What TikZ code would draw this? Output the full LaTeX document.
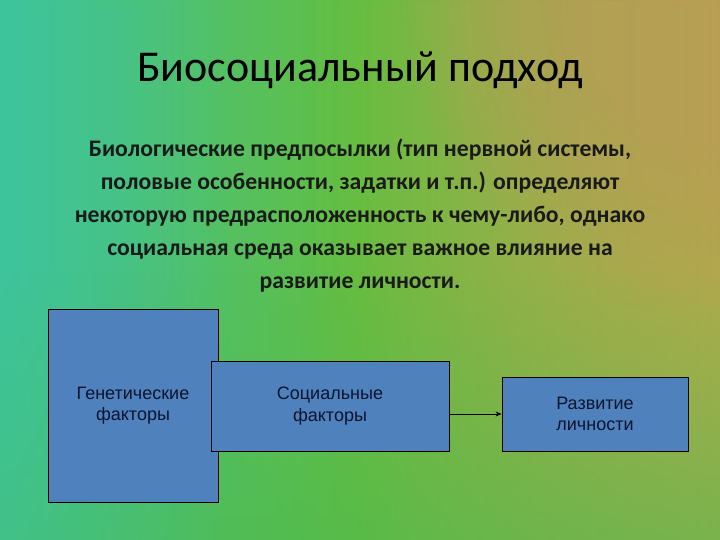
\documentclass[tikz,border=0pt]{standalone}
\usepackage{fontspec}
\setmainfont{Carlito}
\newfontfamily\boxfont{Liberation Sans}
\usetikzlibrary{arrows.meta,fadings}
\definecolor{bgteal}{HTML}{3EC49C}
\definecolor{bggreen}{HTML}{62BE40}
\definecolor{bgyellow}{HTML}{A7B844}
\definecolor{bgbrown}{HTML}{BC9A58}
\definecolor{bgbottom}{HTML}{4DBA4E}
\definecolor{boxblue}{HTML}{4F81BD}
\definecolor{boxtext}{HTML}{0C1430}
\definecolor{bodytext}{HTML}{1A1A1A}
\tikzset{
  factor/.style={draw=black, line width=0.8pt, fill=boxblue, inner sep=0pt,
    align=center, text=boxtext, font=\boxfont\fontsize{18}{21.5}\selectfont},
  conn/.style={draw=black, line width=0.8pt, -{Stealth[length=6pt,width=5pt]}}
}
\begin{document}
\begin{tikzpicture}[x=1pt,y=-1pt]
\useasboundingbox (0,0) rectangle (720,540);
% background
\begin{scope}
\clip (0,0) rectangle (720,540);
\shade[left color=bgteal, right color=bgbrown, middle color=bggreen] (0,0) rectangle (720,540);
\fill[bgyellow, path fading=west, opacity=0.6] (300,0) rectangle (720,540);
\fill[bgbottom, path fading=north, opacity=0.55] (0,270) rectangle (720,540);
\fill[bgteal, path fading=east, opacity=0.55] (0,0) rectangle (230,540);
\fill[bgbrown, path fading=circle with fuzzy edge 20 percent, opacity=0.3] (720,0) circle (320);
\fill[bgbrown, path fading=circle with fuzzy edge 20 percent, opacity=0.3] (720,0) circle (250);
\fill[bgbrown, path fading=circle with fuzzy edge 20 percent, opacity=0.3] (720,0) circle (180);
\end{scope}
% title
\node[font=\fontsize{44}{50}\selectfont, text=black] (title) at (360,70) {Биосоциальный подход};
% body
\node[font=\bfseries\fontsize{23.7}{33}\selectfont, text=bodytext, align=center] (body) at (360,216)
{Биологические предпосылки (тип нервной системы,\\
половые особенности, задатки и т.п.) определяют\\
некоторую предрасположенность к чему-либо, однако\\
социальная среда оказывает важное влияние на\\
развитие личности.};
% boxes
\node[factor, minimum width=170, minimum height=193] (gen) at (133,405.5) {Генетические\\факторы};
\node[factor, minimum width=238, minimum height=90] (soc) at (330,406) {Социальные\\факторы};
\node[factor, minimum width=186, minimum height=74] (dev) at (595,414) {Развитие\\личности};
\draw[conn] (dev.west -| soc.east) -- (dev.west);
\end{tikzpicture}
\end{document}
